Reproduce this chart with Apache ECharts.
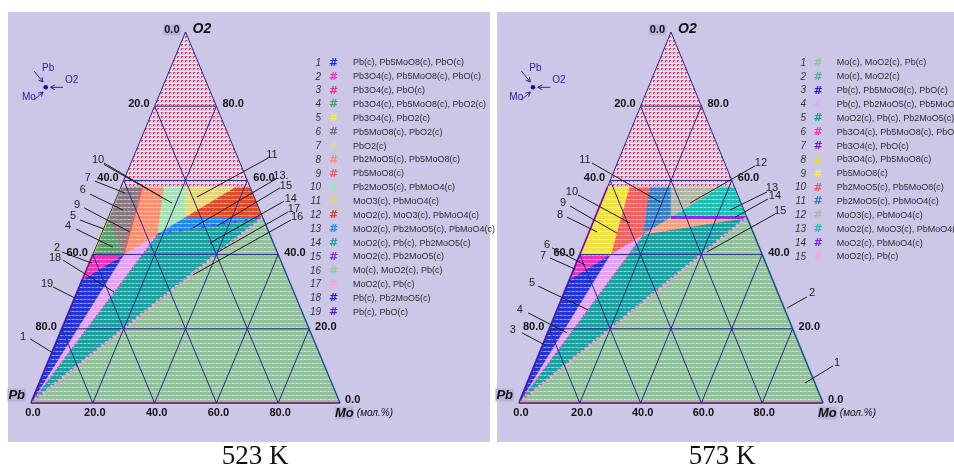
<!DOCTYPE html>
<html><head><meta charset="utf-8">
<script src="https://cdn.jsdelivr.net/npm/echarts@6/dist/echarts.min.js"></script>
<style>html,body{margin:0;padding:0;background:#fff}#c{width:954px;height:469px}</style>
</head><body><div id="c"></div>
<script>
// ---------- DATA (compositions as [Mo mol.%, O2 mol.%]) ----------
const ticks = [0, 20, 40, 60, 80];
const temps = ['523 K', '573 K'];

const legend523 = ['Pb(c), Pb5MoO8(c), PbO(c)','Pb3O4(c), Pb5MoO8(c), PbO(c)','Pb3O4(c), PbO(c)',
 'Pb3O4(c), Pb5MoO8(c), PbO2(c)','Pb3O4(c), PbO2(c)','Pb5MoO8(c), PbO2(c)','PbO2(c)',
 'Pb2MoO5(c), Pb5MoO8(c)','Pb5MoO8(c)','Pb2MoO5(c), PbMoO4(c)','MoO3(c), PbMoO4(c)',
 'MoO2(c), MoO3(c), PbMoO4(c)','MoO2(c), Pb2MoO5(c), PbMoO4(c)','MoO2(c), Pb(c), Pb2MoO5(c)',
 'MoO2(c), Pb2MoO5(c)','Mo(c), MoO2(c), Pb(c)','MoO2(c), Pb(c)','Pb(c), Pb2MoO5(c)','Pb(c), PbO(c)'];
const legend573 = ['Mo(c), MoO2(c), Pb(c)','Mo(c), MoO2(c)','Pb(c), Pb5MoO8(c), PbO(c)',
 'Pb(c), Pb2MoO5(c), Pb5MoO8(c)','MoO2(c), Pb(c), Pb2MoO5(c)','Pb3O4(c), Pb5MoO8(c), PbO(c)',
 'Pb3O4(c), PbO(c)','Pb3O4(c), Pb5MoO8(c)','Pb5MoO8(c)','Pb2MoO5(c), Pb5MoO8(c)',
 'Pb2MoO5(c), PbMoO4(c)','MoO3(c), PbMoO4(c)','MoO2(c), MoO3(c), PbMoO4(c)','MoO2(c), PbMoO4(c)','MoO2(c), Pb(c)'];

// phase fields (polygons)
const fields523 = [
 [[0,100],[0,58.2],[41.8,58.2]],
 [[0,0],[100,0],[50,50]],
 [[0,0],[18.2,45.5],[50,50]],
 [[0,0],[10,40],[18.2,45.5]],
 [[0,0],[0,33.3],[10,40]],
 [[0,33.3],[10,40],[0,40]],
 [[0,40],[10,40],[0,50]],
 [[0,50],[10,40],[6.97,58.2],[0,58.2]],
 [[10,40],[18.2,45.5],[13.96,58.2],[6.97,58.2]],
 [[18.2,45.5],[25,50],[20.9,58.2],[13.96,58.2]],
 [[25,50],[20.9,58.2],[37.3,58.2]],
 [[25,50],[37.3,58.2],[41.8,58.2],[50,50]],
 [[18.2,45.5],[25,50],[50,50]]
];
const fields573 = [
 [[0,100],[0,58.2],[41.8,58.2]],
 [[0,0],[100,0],[50,50]],
 [[0,0],[18.2,45.5],[50,50]],
 [[0,0],[10,40],[18.2,45.5]],
 [[0,0],[0,33.3],[10,40]],
 [[0,33.3],[10,40],[0,40]],
 [[0,40],[10,40],[6.97,58.2],[0,58.2]],
 [[10,40],[18.2,45.5],[13.96,58.2],[6.97,58.2]],
 [[18.2,45.5],[25,50],[20.9,58.2],[13.96,58.2]],
 [[25,50],[20.9,58.2],[37.3,58.2]],
 [[25,50],[37.3,58.2],[41.8,58.2],[50,50]],
 [[18.2,45.5],[25,50],[50,50]]
];
// tie lines / degenerate fields
const lines523 = [
 [[0,0],[0,33.3]], [[0,33.3],[0,40]], [[0,40],[0,50]], [[0,50],[0,58.2]],
 [[10,40],[6.97,58.2]], [[0,40],[10,40]], [[0,0],[18.2,45.5]], [[18.2,45.5],[50,50]],
 [[0,0],[50,50]], [[50,50],[100,0]], [[0,0],[100,0]]
];
const lines573 = [
 [[0,0],[0,33.3]], [[0,33.3],[0,40]], [[0,40],[0,58.2]], [[10,40],[6.97,58.2]],
 [[0,0],[18.2,45.5]], [[25,50],[50,50]], [[0,0],[50,50]], [[50,50],[100,0]], [[0,0],[100,0]]
];
// callouts: label, text point, line start, line end (axis units)
const callouts523 = [
 ['10',[21.7,65.5],[23.6,64.7],[42.7,55.3]], ['',[21.7,65.5],[23.6,64.3],[45.6,53.9]],
 ['7',[18.4,60.6],[20.7,59.8],[30.4,56.6]], ['6',[16.8,57.4],[19.1,56.3],[29.8,52.0]],
 ['9',[14.9,53.4],[17.2,52.6],[32.0,46.1]], ['5',[13.6,50.4],[15.9,49.3],[23.6,46.9]],
 ['4',[12.0,47.7],[14.6,46.9],[26.5,42.0]], ['2',[8.4,41.8],[10.0,40.7],[19.7,37.7]],
 ['18',[7.8,39.1],[10.4,38.5],[26.9,29.9]], ['19',[5.2,32.1],[7.1,31.3],[14.2,28.3]],
 ['1',[-2.6,17.8],[-0.3,17.3],[7.1,13.5]], ['11',[78.0,66.8],[76.7,66.0],[53.7,55.5]],
 ['13.',[80.9,61.2],[79.3,60.4],[52.4,47.2]], ['15',[82.5,58.5],[80.6,58.0],[60.2,47.7]],
 ['14',[84.1,55.0],[81.9,54.4],[57.9,43.1]], ['17',[85.1,52.3],[83.2,51.5],[60.5,40.7]],
 ['16',[86.1,50.1],[84.1,49.3],[52.4,34.5]]
];
const callouts573 = [
 ['11',[21.7,65.5],[24.0,64.7],[46.4,54.2]], ['12',[79.6,64.7],[77.6,63.9],[56.3,53.9]],
 ['13',[83.2,58.0],[81.6,56.9],[69.4,52.0]], ['14',[84.2,55.8],[81.9,55.0],[71.1,50.1]],
 ['15',[85.9,51.8],[84.2,50.9],[61.8,40.7]], ['10',[17.4,56.9],[19.4,56.1],[36.5,48.5]],
 ['9',[14.5,53.9],[16.8,53.1],[32.2,45.8]], ['8',[13.5,50.7],[15.8,50.1],[25.7,46.1]],
 ['6',[9.2,42.6],[10.9,41.8],[21.7,37.2]], ['7',[7.9,39.6],[10.2,39.1],[18.4,36.1]],
 ['5',[4.3,32.3],[6.3,31.5],[22.7,25.1]], ['4',[0.3,25.1],[3.0,24.3],[15.8,18.9]],
 ['3',[-2.0,19.7],[1.0,18.9],[8.6,15.6]], ['2',[96.4,29.6],[94.7,28.6],[88.2,25.6]],
 ['1',[104.6,10.8],[103.3,10.0],[94.1,5.4]]
];

// ---------- STYLES ----------
const legendColors523 = ['#2233dd','#ee33bb','#ee3388','#44a066','#f8ee44','#7a6a72','#d8d8a0','#f88c70','#f05a5a','#a0e4b4','#e6d470','#d84424','#2088f0','#1fa0a0','#8a2ed6','#9cc4a4','#f8a6d0','#2424c4','#5a1ec0'];
const legendColors573 = ['#90c09c','#50b0a0','#2222d4','#e0a6f2','#1f9c9c','#ee33bb','#7a22c4','#e8dc3c','#f8f040','#f05a5a','#3080c0','#b0b4a0','#20bcb0','#8a22e0','#f8a6d0'];
const fieldColors523 = ['gas','#93bf9c','#1f9e9e','#e2a4f2','#2434d6','#ec34b8','#5b9c6c','#887880','#f79172','#a6e0b4','#e6d67a','#df4a2a','#2288ee'];
const fieldColors573 = ['gas','#93bf9c','#1f9e9e','#e2a4f2','#2434d6','#ec34b8','#f0e242','#f26262','#3a7fc2','#b2b5a2','#22bdb2','#f2a083'];
const lineStyles523 = [
 ['#5a22c8',2,null],['#f03080',2,null],['#f4ea40',2,null],['#e4e090',2,null],
 ['#f05a5a',1.5,null],['#f03060',2,null],['#e04070',1,[2,2]],['#8a30d8',2,[3,8]],
 ['#f6a0cc',3,[3,2]],['#40a8a8',1.5,null],['#f04070',2,null]];
const lineStyles573 = [
 ['#5a22c8',2,null],['#8020c0',2,null],['#e03090',2,null],['#f8f040',1.5,null],
 ['#e04070',1,[2,2]],['#8a2ee6',3,null],['#f6a0cc',3,[3,2]],['#50b0a0',2,null],['#f04070',2,null]];

const LAV = '#cdc7e7', NAVY = '#26268e';
const toXY = p => [p[0] + p[1] / 2, p[1]];

function mix(a, b, t) {
  const pa = parseInt(a.slice(1), 16), pb = parseInt(b.slice(1), 16);
  const c = s => Math.round(((pa >> s) & 255) * (1 - t) + ((pb >> s) & 255) * t);
  return 'rgb(' + c(16) + ',' + c(8) + ',' + c(0) + ')';
}
function dots(color) {
  const cv = document.createElement('canvas'); cv.width = 4; cv.height = 4;
  const g = cv.getContext('2d');
  if (color === 'gas') {
    g.fillStyle = '#d9cae6'; g.fillRect(0, 0, 4, 4);
    g.fillStyle = '#ece4f3'; g.fillRect(0, 3, 4, 1);
    g.fillStyle = '#f23c58'; g.fillRect(1, 0, 1, 2); g.fillRect(2, 0, 1, 1);
  } else {
    g.fillStyle = color; g.fillRect(0, 0, 4, 4);
    g.fillStyle = mix(color, '#ffffff', 0.55); g.fillRect(0, 3, 2, 1);
    g.fillStyle = mix(color, '#ffffff', 0.3); g.fillRect(2, 3, 2, 1);
  }
  return { image: cv, repeat: 'repeat' };
}

function fieldSeries(gi, fields, colors) {
  const fills = colors.map(dots);
  return { type: 'custom', coordinateSystem: 'cartesian2d', xAxisIndex: gi, yAxisIndex: gi,
    clip: false, silent: true, z: 1, data: fields.map((f, i) => [i]),
    renderItem(params, api) {
      const pts = fields[params.dataIndex].map(p => api.coord(toXY(p)));
      return { type: 'polygon', shape: { points: pts }, style: { fill: fills[params.dataIndex], stroke: fills[params.dataIndex], lineWidth: 0.6 } };
    } };
}
function lineSeries(gi, lines, styles, z) {
  return { type: 'custom', coordinateSystem: 'cartesian2d', xAxisIndex: gi, yAxisIndex: gi,
    clip: false, silent: true, z: z, data: lines.map((l, i) => [i]),
    renderItem(params, api) {
      const s = styles[params.dataIndex];
      const pts = lines[params.dataIndex].map(p => api.coord(toXY(p)));
      return { type: 'polyline', shape: { points: pts }, style: { stroke: s[0], lineWidth: s[1], lineDash: s[2] || null, fill: null } };
    } };
}
function gridLines() {
  const out = [[[0,0],[100,0],[0,100],[0,0]]];
  ticks.filter(k => k > 0).forEach(k => {
    out.push([[0,k],[100-k,k]]);
    out.push([[k,0],[k,100-k]]);
    out.push([[k,0],[0,k]]);
  });
  return out;
}
function gridSeries(gi) {
  const gl = gridLines();
  return lineSeries(gi, gl, gl.map(() => [NAVY, 1, null]), 3);
}
function calloutSeries(gi, items) {
  return { type: 'custom', coordinateSystem: 'cartesian2d', xAxisIndex: gi, yAxisIndex: gi,
    clip: false, silent: true, z: 6, data: items.map((c, i) => [i]),
    renderItem(params, api) {
      const c = items[params.dataIndex];
      const t = api.coord(c[1]), a = api.coord(c[2]), b = api.coord(c[3]);
      return { type: 'group', children: [
        { type: 'line', shape: { x1: a[0], y1: a[1], x2: b[0], y2: b[1] }, style: { stroke: '#1a1a1a', lineWidth: 1 } },
        { type: 'text', x: t[0], y: t[1], style: { text: c[0], font: '11px "Liberation Sans", Arial, sans-serif', fill: '#222',
          align: 'center', verticalAlign: 'middle', textAlign: 'center', textVerticalAlign: 'middle' } }
      ] };
    } };
}
function axisLabelSeries(gi) {
  const items = [];
  ticks.forEach(k => {
    items.push({ t: k.toFixed(1), p: toXY([k, 0]), dx: 2, dy: 10, a: 'center' });
    items.push({ t: k.toFixed(1), p: toXY([0, 100 - k]), dx: -5, dy: -2, a: 'right', bg: k === 0 });
    items.push({ t: k.toFixed(1), p: toXY([100 - k, k]), dx: k === 0 ? 5 : 6, dy: k === 0 ? -3 : -2, a: 'left' });
  });
  items.push({ t: 'O2', p: toXY([0, 100]), dx: 7, dy: -3, a: 'left', font: 'italic bold 14px "Liberation Sans", Arial, sans-serif' });
  items.push({ t: 'Pb', p: toXY([0, 0]), dx: -5, dy: -8, a: 'right', bg: true, font: 'italic bold 13px "Liberation Sans", Arial, sans-serif' });
  items.push({ t: '{m|Mo} {u|(мол.%)}', p: toXY([100, 0]), dx: -5, dy: 10, a: 'left', rich: true });
  const font = 'bold 11px "Liberation Sans Narrow", "Liberation Sans", Arial, sans-serif';
  return { type: 'custom', coordinateSystem: 'cartesian2d', xAxisIndex: gi, yAxisIndex: gi,
    clip: false, silent: true, z: 7, data: items.map((c, i) => [i]),
    renderItem(params, api) {
      const it = items[params.dataIndex];
      const p = api.coord(it.p);
      const style = { text: it.t, font: it.font || font, fill: '#111', align: it.a, textAlign: it.a,
        verticalAlign: 'middle', textVerticalAlign: 'middle' };
      if (it.bg) { style.backgroundColor = '#b7b3d9'; style.padding = [0, 1]; }
      if (it.rich) style.rich = {
        m: { font: 'italic bold 13px "Liberation Sans", Arial, sans-serif', fill: '#111', backgroundColor: '#b7b3d9' },
        u: { font: 'italic 10px "Liberation Sans", Arial, sans-serif', fill: '#111' } };
      return { type: 'text', x: p[0] + it.dx, y: p[1] + it.dy, style };
    } };
}

// ---------- graphics (panels, legends, compass, captions) ----------
function legendGraphics(labels, colors, xn, xi, xt) {
  const out = [];
  labels.forEach((t, i) => {
    const y = 63 + i * 13.85;
    out.push({ type: 'text', x: xn, y, z: 10, style: { text: String(i + 1), font: 'italic 10px "Liberation Sans", Arial, sans-serif', fill: '#333', align: 'right', textAlign: 'right', verticalAlign: 'middle', textVerticalAlign: 'middle' } });
    out.push({ type: 'text', x: xi, y, z: 10, style: { text: '#', font: 'bold 11px "DejaVu Sans", sans-serif', fill: colors[i], align: 'center', textAlign: 'center', verticalAlign: 'middle', textVerticalAlign: 'middle' } });
    out.push({ type: 'text', x: xt, y, z: 10, style: { text: t, font: '9px "Liberation Sans", Arial, sans-serif', fill: '#2a2a2a', align: 'left', textAlign: 'left', verticalAlign: 'middle', textVerticalAlign: 'middle' } });
  });
  return out;
}
function arrow(x1, y1, x2, y2) {
  const a = Math.atan2(y2 - y1, x2 - x1), L = 5, s = 0.5, C = '#24249a';
  return [
    { type: 'line', z: 10, shape: { x1, y1, x2, y2 }, style: { stroke: C, lineWidth: 1 } },
    { type: 'polyline', z: 10, shape: { points: [[x2 - L * Math.cos(a - s), y2 - L * Math.sin(a - s)], [x2, y2], [x2 - L * Math.cos(a + s), y2 - L * Math.sin(a + s)]] }, style: { stroke: C, fill: null, lineWidth: 1 } }
  ];
}
function compass(dx) {
  const C = '#24249a', f = '10px "Liberation Sans", Arial, sans-serif';
  const t = (s, x, y) => ({ type: 'text', x: x + dx, y, z: 10, style: { text: s, font: f, fill: C, align: 'left', textAlign: 'left', verticalAlign: 'middle', textVerticalAlign: 'middle' } });
  return [
    { type: 'circle', z: 10, shape: { cx: 45.7 + dx, cy: 87.3, r: 2.3 }, style: { fill: '#141480' } },
    ...arrow(34 + dx, 71, 43 + dx, 82), ...arrow(63 + dx, 87.3, 50.5 + dx, 87.3), ...arrow(34 + dx, 100, 43 + dx, 92),
    t('Pb', 42, 68), t('O2', 65, 80), t('Mo', 22, 97)
  ];
}
const graphics = [
  { type: 'rect', z: -10, shape: { x: 8, y: 12, width: 482, height: 430 }, style: { fill: LAV } },
  { type: 'rect', z: -10, shape: { x: 497, y: 12, width: 470, height: 430 }, style: { fill: LAV } },
  ...legendGraphics(legend523, legendColors523, 321, 333.5, 353),
  ...legendGraphics(legend573, legendColors573, 806, 818, 836.7),
  ...compass(0), ...compass(487.3),
  { type: 'text', x: 255, y: 457, z: 10, style: { text: temps[0], font: '27px "Liberation Serif", "Times New Roman", serif', fill: '#111', align: 'center', textAlign: 'center', verticalAlign: 'middle', textVerticalAlign: 'middle' } },
  { type: 'text', x: 722, y: 457, z: 10, style: { text: temps[1], font: '27px "Liberation Serif", "Times New Roman", serif', fill: '#111', align: 'center', textAlign: 'center', verticalAlign: 'middle', textVerticalAlign: 'middle' } }
];

const chart = echarts.init(document.getElementById('c'), null, { renderer: 'canvas' });
chart.setOption({
  animation: false,
  backgroundColor: '#ffffff',
  grid: [{ left: 31, top: 32, width: 309, height: 371, show: false }, { left: 519, top: 32, width: 304, height: 371, show: false }],
  xAxis: [0, 1].map(i => ({ type: 'value', gridIndex: i, min: 0, max: 100, show: false })),
  yAxis: [0, 1].map(i => ({ type: 'value', gridIndex: i, min: 0, max: 100, show: false })),
  graphic: { elements: graphics },
  series: [
    fieldSeries(0, fields523, fieldColors523), fieldSeries(1, fields573, fieldColors573),
    lineSeries(0, lines523, lineStyles523, 2), lineSeries(1, lines573, lineStyles573, 2),
    gridSeries(0), gridSeries(1),
    calloutSeries(0, callouts523), calloutSeries(1, callouts573),
    axisLabelSeries(0), axisLabelSeries(1)
  ]
});
</script></body></html>
